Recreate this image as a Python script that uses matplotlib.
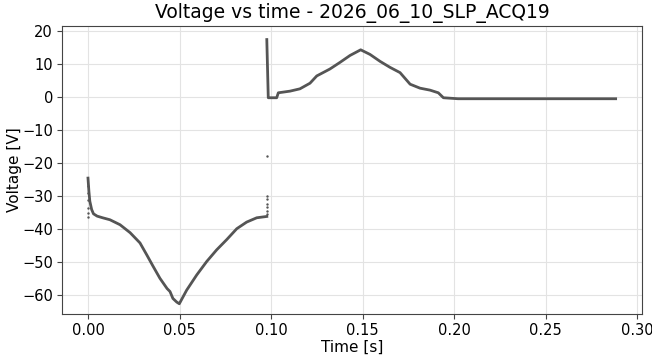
import matplotlib
matplotlib.use("Agg")
from matplotlib import pyplot as plt

# trace (time in s, voltage in V)
# first pulse: negative lobe
t_neg = [0.0, 0.0005, 0.001, 0.002, 0.003, 0.005, 0.008, 0.012, 0.0175,
         0.023, 0.0284, 0.0322, 0.0355, 0.0393, 0.0432, 0.0448, 0.0464,
         0.0485, 0.0499, 0.0539, 0.0594, 0.0649, 0.0703, 0.0758, 0.0813,
         0.0867, 0.0922, 0.0977]
v_neg = [-24.5, -28.5, -31.5, -34.0, -35.3, -36.0, -36.5, -37.1, -38.6,
         -41.0, -44.1, -47.8, -51.1, -54.8, -57.9, -58.8, -60.9,
         -62.0, -62.5, -58.4, -53.8, -49.7, -46.2, -43.1, -39.8,
         -37.8, -36.5, -36.1]

# second pulse: positive lobe and tail
t_pos = [0.0977, 0.0985, 0.1031, 0.104, 0.1104, 0.1158, 0.1213, 0.125,
         0.1322, 0.1377, 0.1432, 0.149, 0.1541, 0.1596, 0.1650, 0.1705,
         0.1760, 0.1814, 0.1869, 0.1914, 0.1942, 0.2022, 0.2883]
v_pos = [17.4, -0.2, -0.2, 1.3, 1.8, 2.5, 4.2, 6.4,
         8.5, 10.5, 12.6, 14.3, 12.9, 10.8, 9.0, 7.4,
         3.9, 2.7, 2.1, 1.3, -0.2, -0.5, -0.5]

# isolated samples around the two transitions
dot_t = [0.0, 0.0, 0.0, 0.0, 0.0, 0.0, 0.0977, 0.0977, 0.0977, 0.0977,
         0.0977, 0.0977, 0.0977]
dot_v = [-27.0, -29.0, -31.0, -33.4, -35.0, -36.4, -17.9, -29.8, -30.9,
         -32.2, -33.3, -34.3, -35.4]

fig = plt.figure(figsize=(6.52, 3.56), dpi=100)
ax = fig.add_axes([62/652, 1 - 314/356, 580/652, 288/356])

trace_color = "#555555"
ax.plot(t_neg, v_neg, color=trace_color, lw=2.0, solid_joinstyle="round")
ax.plot(t_pos, v_pos, color=trace_color, lw=2.0, solid_joinstyle="round")
ax.scatter(dot_t, dot_v, s=3, color=trace_color, linewidths=0)

ax.set_xticks([0.0, 0.05, 0.10, 0.15, 0.20, 0.25, 0.30])
ax.set_xticklabels(["0.00", "0.05", "0.10", "0.15", "0.20", "0.25", "0.30"])
ax.set_yticks([20, 10, 0, -10, -20, -30, -40, -50, -60])
ax.set_xlim(-0.0142, 0.3027)
ax.set_ylim(-65.6, 21.5)

ax.grid(True, color="#e3e3e3", lw=0.8)
ax.set_axisbelow(True)
for s in ax.spines.values():
    s.set_color("#444444")
ax.tick_params(labelsize=10.5, color="#444444", length=3.5, pad=3)

ax.set_title("Voltage vs time - 2026_06_10_SLP_ACQ19", fontsize=13.5, pad=6)
ax.set_xlabel("Time [s]", fontsize=11, labelpad=1)
ax.set_ylabel("Voltage [V]", fontsize=11, labelpad=0)

fig.savefig("out.png", dpi=100)
